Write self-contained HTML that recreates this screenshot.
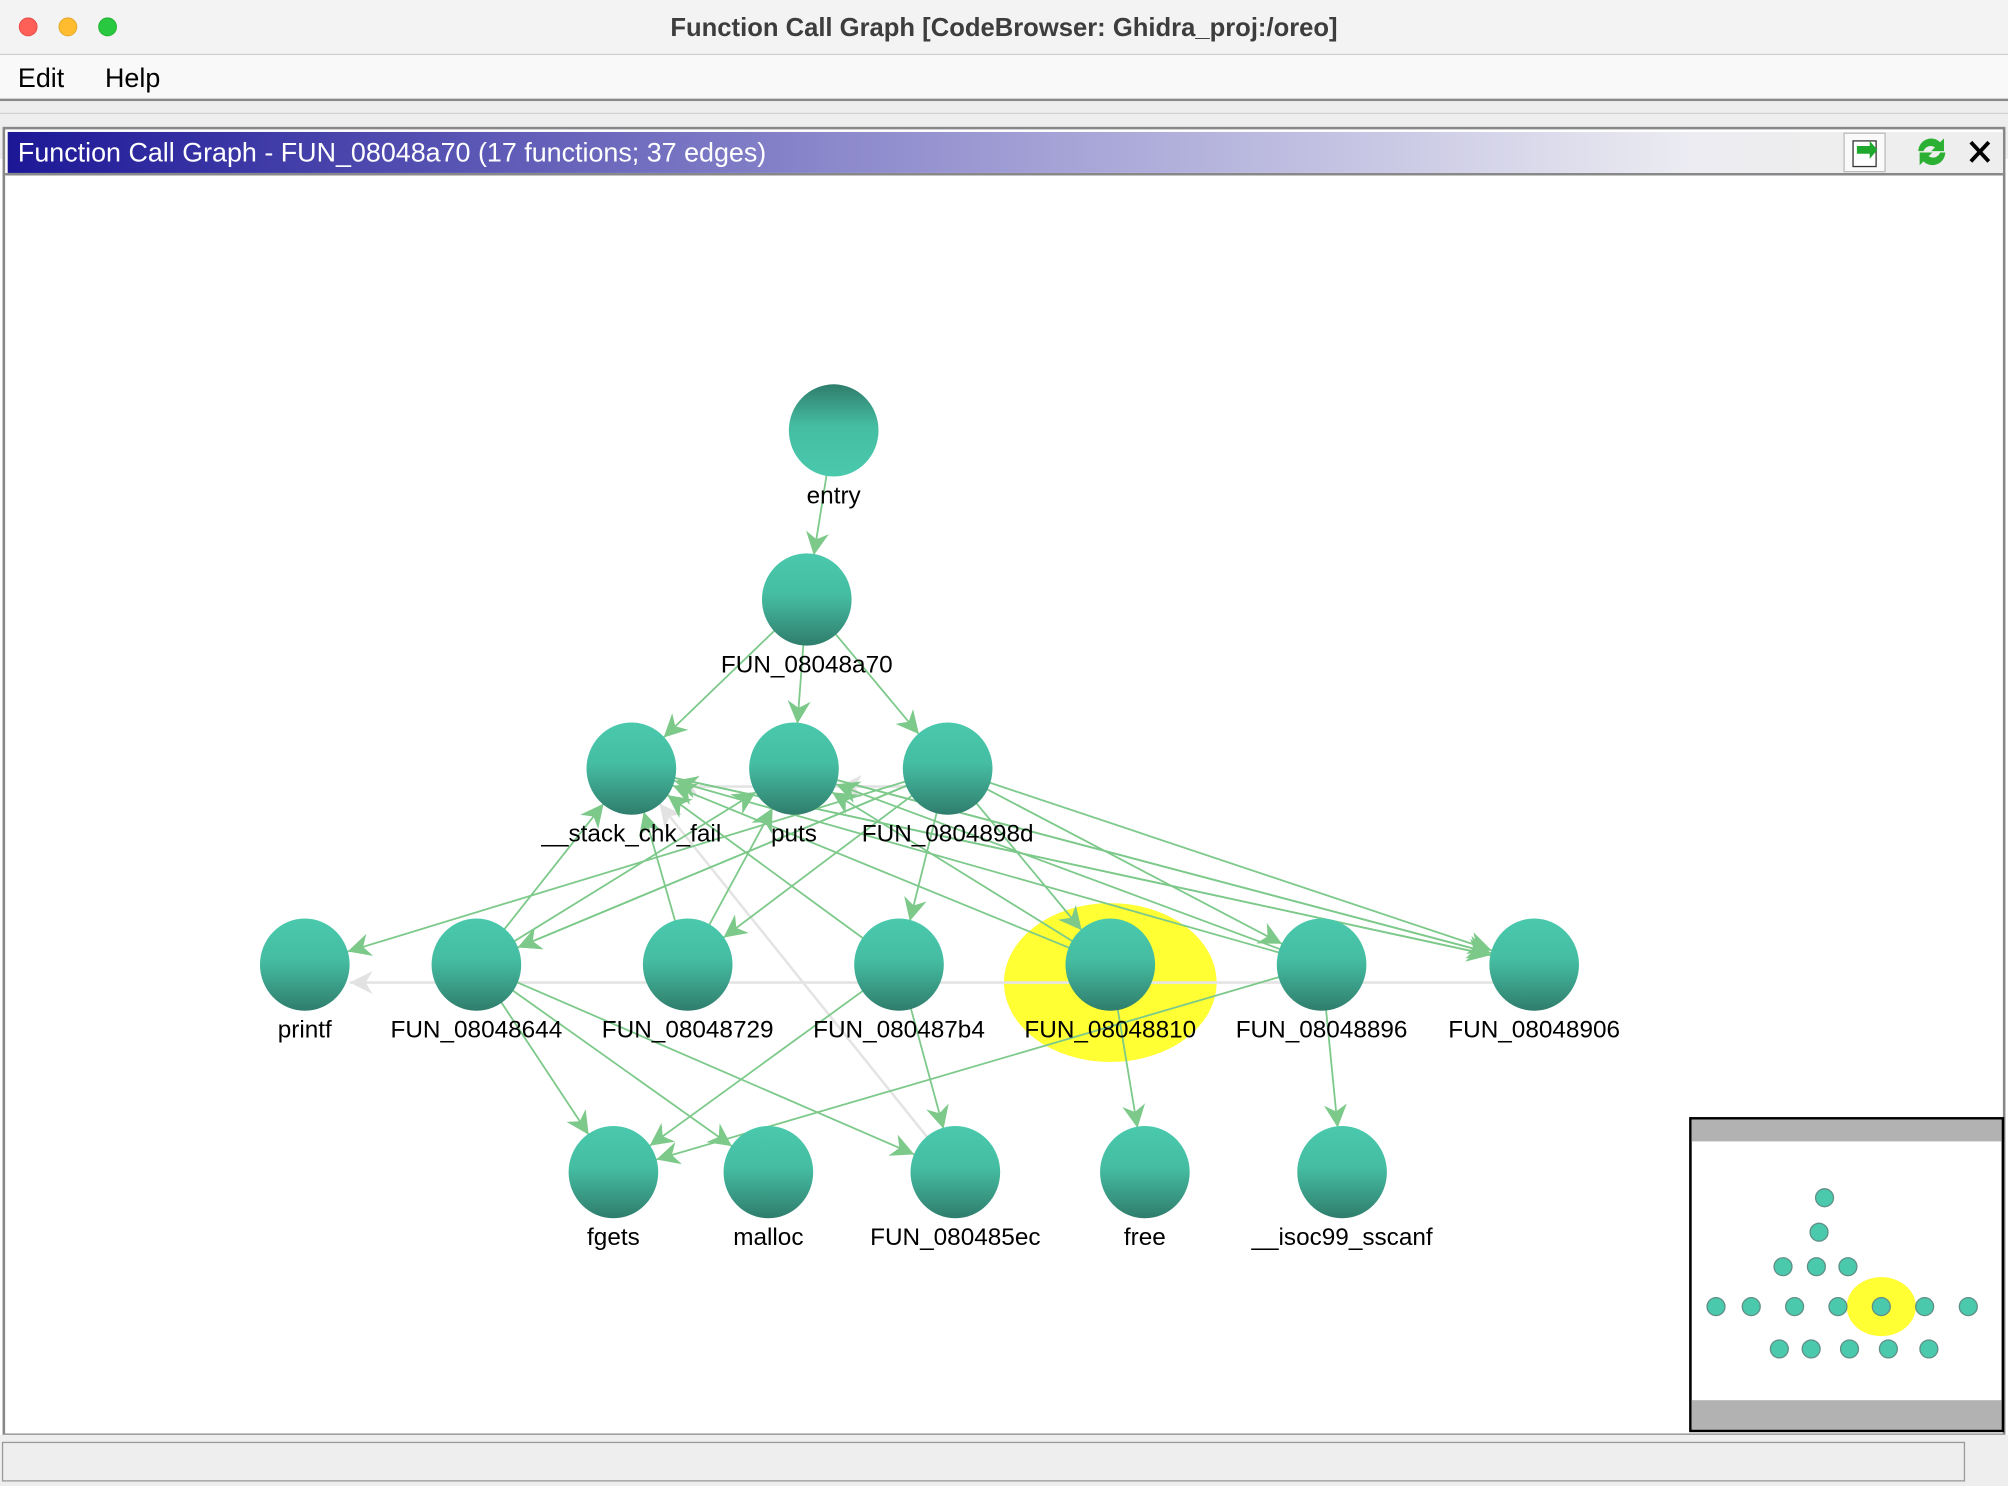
<!DOCTYPE html>
<html><head><meta charset="utf-8">
<style>
html,body{margin:0;padding:0;background:#fff;}
svg{display:block;font-family:"Liberation Sans",sans-serif;}
</style></head>
<body>
<svg id="root" width="2008" height="1486" viewBox="0 0 1568 1160" preserveAspectRatio="none" xmlns="http://www.w3.org/2000/svg">
<defs>
<linearGradient id="nodeGrad" x1="0" y1="0" x2="0" y2="1">
<stop offset="0" stop-color="#4ac9ad"/><stop offset="0.45" stop-color="#45bda2"/><stop offset="1" stop-color="#2f7d6c"/></linearGradient>
<linearGradient id="entryGrad" x1="0" y1="0" x2="0" y2="1">
<stop offset="0" stop-color="#2f7d6c"/><stop offset="0.45" stop-color="#45bda2"/><stop offset="1" stop-color="#4ac9ad"/></linearGradient>
<linearGradient id="hdrGrad" x1="0" y1="0" x2="1" y2="0">
<stop offset="0" stop-color="#1c1796"/><stop offset="0.45" stop-color="#8b88cc"/><stop offset="0.92" stop-color="#ececf2"/><stop offset="1" stop-color="#eeeeee"/></linearGradient>
<marker id="arr" viewBox="0 0 10 10" refX="10" refY="5" markerWidth="18" markerHeight="18" markerUnits="userSpaceOnUse" orient="auto"><path d="M0,0 L10,5 L0,10 L3,5 z" fill="#7cc98a"/></marker>
<marker id="arrg" viewBox="0 0 10 10" refX="10" refY="5" markerWidth="18" markerHeight="18" markerUnits="userSpaceOnUse" orient="auto"><path d="M0,0 L10,5 L0,10 L3,5 z" fill="#e2e2e2"/></marker>
</defs>
<rect x="0" y="0" width="1568" height="42" fill="#f3f3f3"/>
<line x1="0" y1="42.5" x2="1568" y2="42.5" stroke="#cfcfcf"/>
<circle cx="22" cy="21" r="7" fill="#fe5f57" stroke="#e0443e" stroke-width="0.6"/>
<circle cx="53" cy="21" r="7" fill="#febc2e" stroke="#dea123" stroke-width="0.6"/>
<circle cx="84" cy="21" r="7" fill="#28c840" stroke="#1aab29" stroke-width="0.6"/>
<text x="784" y="28" text-anchor="middle" font-size="20" font-weight="bold" fill="#3d3d3d">Function Call Graph [CodeBrowser: Ghidra_proj:/oreo]</text>
<rect x="0" y="43" width="1568" height="34" fill="#f9f9f9"/>
<text x="14" y="68" font-size="21" fill="#000">Edit</text>
<text x="82" y="68" font-size="21" fill="#000">Help</text>
<rect x="0" y="77" width="1568" height="2" fill="#8a8a8a"/>
<rect x="0" y="79" width="1568" height="45" fill="#eeeeee"/>
<line x1="0" y1="88.5" x2="1568" y2="88.5" stroke="#d2d2d2"/>
<rect x="3" y="100" width="1562" height="1020" fill="#fff" stroke="#888" stroke-width="2"/>
<rect x="6" y="103" width="1430" height="32" fill="url(#hdrGrad)"/>
<rect x="1436" y="103" width="128" height="32" fill="#eeeeee"/>
<line x1="4" y1="136" x2="1564" y2="136" stroke="#888" stroke-width="2"/>
<text x="14" y="126" font-size="21" fill="#ffffff">Function Call Graph - FUN_08048a70 (17 functions; 37 edges)</text>
<g><rect x="1440" y="104" width="32" height="30" fill="#fafafa" stroke="#bbb"/><rect x="1447" y="110" width="18" height="20" fill="#fff" stroke="#333"/><path d="M1450 114 h10 v-4 l6 7 -6 7 v-4 h-10z" fill="#1ea82e"/></g>
<g><path d="M1498 118 a10 10 0 0 1 17 -7 l3 -3 v10 h-10 l3 -3 a6 6 0 0 0 -9 3z" fill="#2bb034"/><path d="M1519 119 a10 10 0 0 1 -17 7 l-3 3 v-10 h10 l-3 3 a6 6 0 0 0 9 -3z" fill="#2bb034"/></g>
<g><path d="M1539 111 L1553 126 M1553 111 L1539 126" stroke="#000" stroke-width="3"/></g>
<g id="hlg"></g>
<g id="edges"></g>
<g id="nodes"></g>
<g>
<rect x="1320" y="873" width="244" height="244" fill="#fff" stroke="#000" stroke-width="2"/>
<rect x="1321" y="874" width="242" height="17" fill="#b2b2b2"/>
<rect x="1321" y="1093" width="242" height="23" fill="#b2b2b2"/>
<g id="mini"></g>
</g>
<rect x="0" y="1120" width="1568" height="40" fill="#eeeeee"/>
<rect x="2" y="1126" width="1532" height="30" fill="#eeeeee" stroke="#999" stroke-width="1"/>
</svg>
<script>
const nodeNames = ["entry","FUN_08048a70","__stack_chk_fail","puts","FUN_0804898d","printf","FUN_08048644","FUN_08048729","FUN_080487b4","FUN_08048810","FUN_08048896","FUN_08048906","fgets","malloc","FUN_080485ec","free","__isoc99_sscanf"];
const nodeX = [651,630,493,620,740,238,372,537,702,867,1032,1198,479,600,746,894,1048];
const nodeY = [336,468,600,600,600,753,753,753,753,753,753,753,915,915,915,915,915];
const edgeFrom = [0,1,1,1,4,6,6,6,6,6,7,7,8,8,8,9,9,9,10,10,10,10,4,4,4,4,4,4,4,2,3,2,3,4,14,11,4];
const edgeTo   = [1,2,3,4,5,2,3,12,13,14,2,3,2,12,14,2,3,15,2,3,12,16,6,7,8,9,10,11,6,11,11,11,11,2,2,5,3];
const edgeGrey = [0,0,0,0,0,0,0,0,0,0,0,0,0,0,0,0,0,0,0,0,0,0,0,0,0,0,0,0,0,0,0,0,0,1,1,1,1];
const selected = "FUN_08048810";
const NS="http://www.w3.org/2000/svg";
const R=35;
const eg=document.getElementById('edges'), ng=document.getElementById('nodes'), mg=document.getElementById('mini'), hg=document.getElementById('hlg');
const si=nodeNames.indexOf(selected);
const hl=document.createElementNS(NS,'ellipse');


hl.setAttribute('cx',nodeX[si]);hl.setAttribute('cy',nodeY[si]+14);hl.setAttribute('rx',83);hl.setAttribute('ry',62);hl.setAttribute('fill','#ffff33');
hg.appendChild(hl);
for(let k=0;k<edgeFrom.length;k++){
  const a=edgeFrom[k], b=edgeTo[k], g=edgeGrey[k];
  let x1=nodeX[a],y1=nodeY[a],x2=nodeX[b],y2=nodeY[b];
  if(g && y1===y2){ y1+=14; y2+=14; }
  const dx=x2-x1, dy=y2-y1, L=Math.hypot(dx,dy);
  const l=document.createElementNS(NS,'line');
  
  
  l.setAttribute('x1',x1+dx/L*R*0.9);l.setAttribute('y1',y1+dy/L*R*0.9);
  l.setAttribute('x2',x2-dx/L*R);l.setAttribute('y2',y2-dy/L*R);
  l.setAttribute('stroke',g?'#e4e4e4':'#7cc98a');l.setAttribute('stroke-width',g?2:1.4);
  l.setAttribute('marker-end',g?'url(#arrg)':'url(#arr)');
  if(g) eg.insertBefore(l,eg.firstChild); else eg.appendChild(l);
}
for(let i=0;i<nodeNames.length;i++){
  const c=document.createElementNS(NS,'ellipse');
  
  
  c.setAttribute('cx',nodeX[i]);c.setAttribute('cy',nodeY[i]);c.setAttribute('rx',R);c.setAttribute('ry',R+1);
  c.setAttribute('fill',i===0?'url(#entryGrad)':'url(#nodeGrad)');
  ng.appendChild(c);
  const t=document.createElementNS(NS,'text');
  
  
  t.setAttribute('x',nodeX[i]);t.setAttribute('y',nodeY[i]+57);t.setAttribute('text-anchor','middle');t.setAttribute('font-size','19');
  t.textContent=nodeNames[i];
  ng.appendChild(t);
  const mx=1340+(nodeX[i]-238)*0.2052, my=935+(nodeY[i]-336)*0.2038;
  if(i===si){
    const h=document.createElementNS(NS,'ellipse');
    
    
    h.setAttribute('cx',mx);h.setAttribute('cy',my);h.setAttribute('rx',27);h.setAttribute('ry',23);h.setAttribute('fill','#ffff33');
    mg.insertBefore(h,mg.firstChild);
  }
  const m=document.createElementNS(NS,'circle');
  
  
  m.setAttribute('cx',mx);m.setAttribute('cy',my);m.setAttribute('r',7);m.setAttribute('fill','#4ac9ad');m.setAttribute('stroke','#5f8f86');
  mg.appendChild(m);
}
</script>
</body></html>
